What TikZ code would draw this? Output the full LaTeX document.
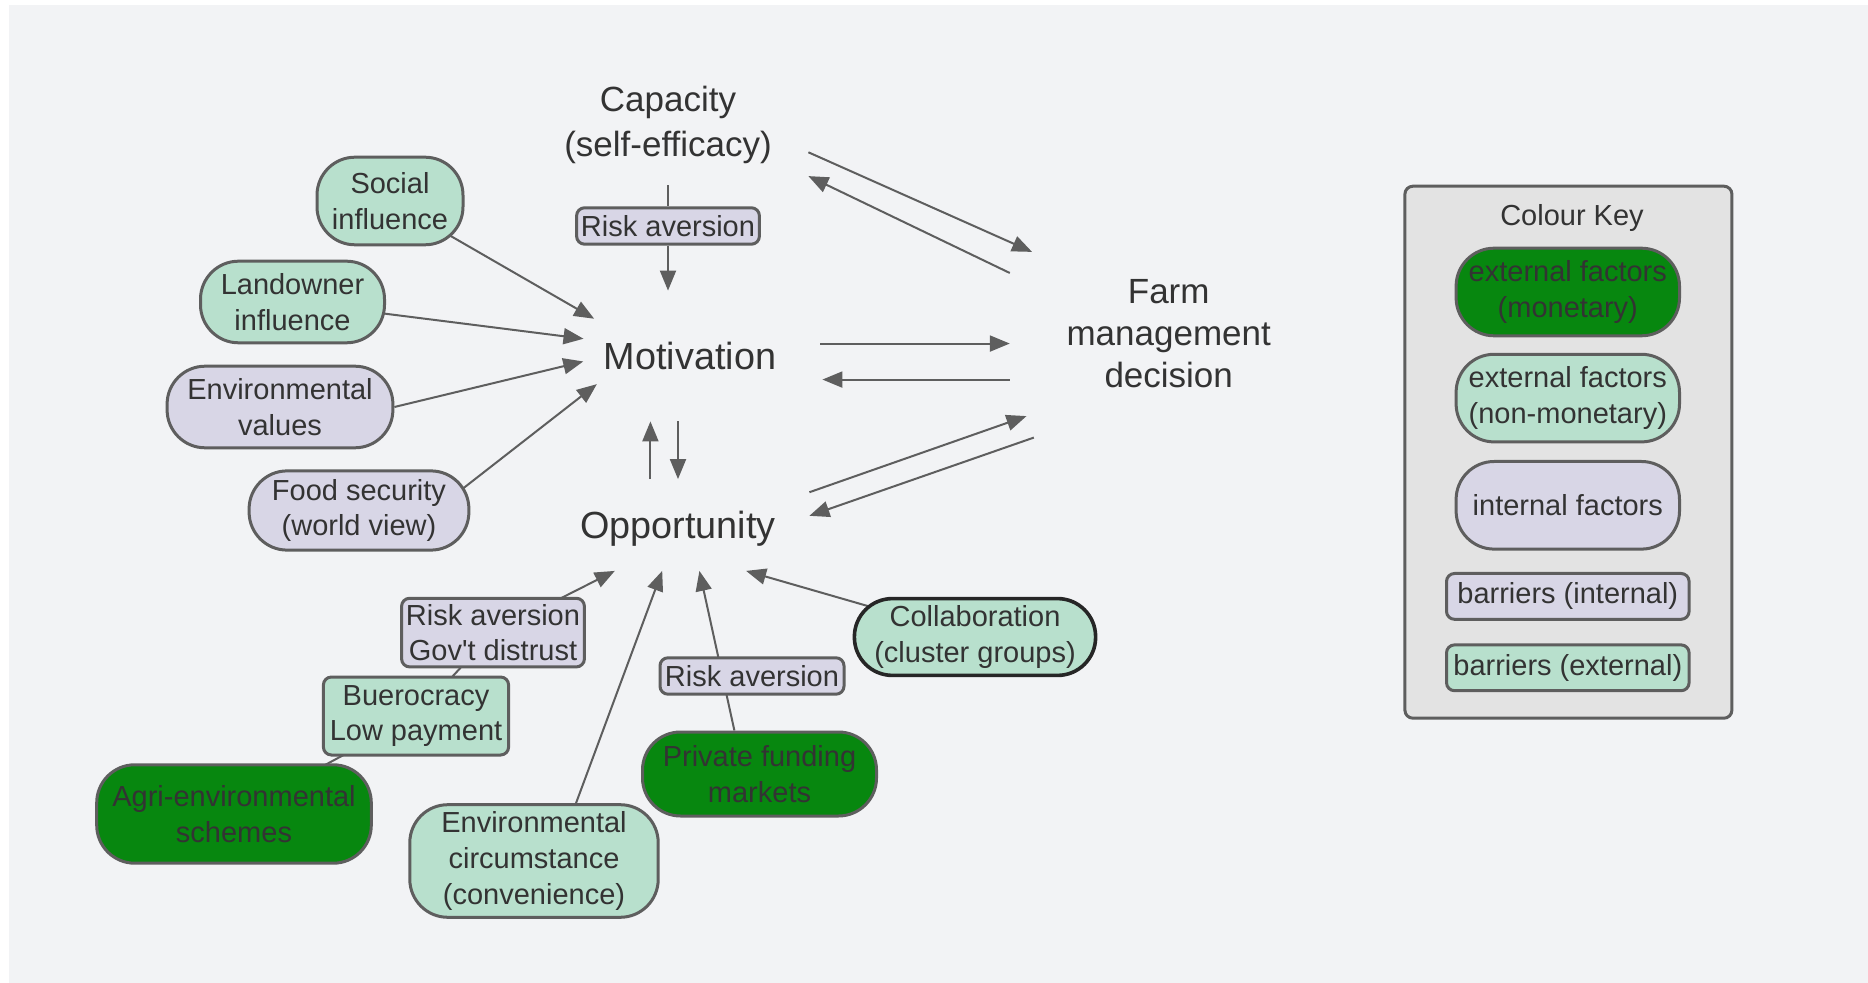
\documentclass[tikz,border=0pt]{standalone}
\usepackage{fontspec}
\setmainfont{Liberation Sans}[Ligatures=TeXOff]
\usetikzlibrary{positioning, arrows.meta, backgrounds}

\definecolor{pagegrey}{HTML}{F2F3F5}
\definecolor{edgegrey}{HTML}{5E5E5E}
\definecolor{inkgrey}{HTML}{333333}
\definecolor{mint}{HTML}{B8E0CD}
\definecolor{lilac}{HTML}{D8D6E6}
\definecolor{money}{HTML}{07870F}
\definecolor{keygrey}{HTML}{E3E3E3}

\begin{document}
\begin{tikzpicture}[x=0.5pt, y=-0.5pt, >={Triangle[length=10pt, width=8pt]},
    every node/.style={text=inkgrey},
    hub/.style={align=center, inner sep=0pt,
                font=\fontsize{17.5}{22.5}\selectfont},
    hubbig/.style={hub, font=\fontsize{18.9}{22.5}\selectfont},
    factor/.style={draw=edgegrey, line width=1.5pt, rounded corners=19pt,
                   align=center, inner sep=1pt,
                   font=\fontsize{14.5}{17.9}\selectfont},
    intf/.style={factor, fill=lilac},
    extf/.style={factor, fill=mint},
    monf/.style={factor, fill=money},
    barrier/.style={factor, rounded corners=4pt},
    barin/.style={barrier, fill=lilac},
    barex/.style={barrier, fill=mint},
    link/.style={->, draw=edgegrey, line width=1pt}]
  \useasboundingbox (0,0) rectangle (1868,983);

  \node[hub, minimum width=140pt, minimum height=60pt] (cap) at (668,125)
       {Capacity\\(self-efficacy)};
  \node[hubbig, minimum width=118pt, minimum height=65pt] (mot) at (690,356)
       {Motivation};
  \node[hubbig, text depth=0pt, minimum width=131pt, minimum height=45.5pt]
       (opp) at (678,525) {Opportunity};
  \node[hub, font=\fontsize{17.5}{21}\selectfont, minimum width=158.5pt,
        minimum height=81.7pt] (farm) at (1168.7,334)
       {Farm\\management\\decision};

  \node[extf, minimum width=73pt, minimum height=43.8pt] (social) at (390,201)
       {Social\\influence};
  \node[extf, minimum width=92pt, minimum height=40.8pt] (land) at (292.5,302)
       {Landowner\\influence};
  \node[intf, minimum width=112.9pt, minimum height=40.8pt] (envval) at (280,407)
       {Environmental\\values};
  \node[intf, minimum width=109.9pt, minimum height=39.6pt] (food) at (359,510.5)
       {Food security\\(world view)};
  \node[barin, minimum width=91.4pt, minimum height=18.2pt] (riskcap) at (668,226)
       {Risk aversion};
  \node[barin, minimum width=91.4pt, minimum height=34.3pt] (riskgov) at (493,632.6)
       {Risk aversion\\Gov't distrust};
  \node[barex, minimum width=92.6pt, minimum height=39pt] (bureau) at (416,716)
       {Buerocracy\\Low payment};
  \node[monf, minimum width=137.3pt, minimum height=49.2pt] (agri) at (234,814)
       {Agri-environmental\\schemes};
  \node[extf, minimum width=124.2pt, minimum height=56.3pt] (envcirc) at (534,861)
       {Environmental\\circumstance\\(convenience)};
  \node[barin, minimum width=92pt, minimum height=18.2pt] (riskpriv) at (752,676)
       {Risk aversion};
  \node[monf, minimum width=117pt, minimum height=42pt] (priv) at (759.5,774)
       {Private funding\\markets};
  \node[extf, draw=black!85, line width=1.8pt, minimum width=120.6pt,
        minimum height=38.4pt] (collab) at (975,637)
       {Collaboration\\(cluster groups)};

  \node[draw=edgegrey, fill=keygrey, line width=1.5pt, rounded corners=4pt,
        minimum width=163.5pt, minimum height=266pt] (keybox) at (1568.4,452.2) {};
  \node[font=\fontsize{14.5}{17.9}\selectfont] (keytitle) at (1572,218) {Colour Key};
  \node[monf, minimum width=111.7pt, minimum height=43.8pt] (k1) at (1567.8,292)
       {external factors\\(monetary)};
  \node[extf, minimum width=111.7pt, minimum height=43.8pt, below=7.75pt of k1] (k2)
       {external factors\\(non-monetary)};
  \node[intf, minimum width=111.7pt, minimum height=43.8pt, below=8.3pt of k2] (k3)
       {internal factors};
  \node[barin, minimum width=121.3pt, minimum height=22.9pt, below=10.7pt of k3] (k4)
       {barriers (internal)};
  \node[barex, minimum width=121.3pt, minimum height=22.9pt, below=11.3pt of k4] (k5)
       {barriers (external)};

  \begin{scope}[on background layer]
    \fill[white] (0,0) rectangle (1868,983);
    \fill[pagegrey] (9,5) rectangle (1868,983);
    \draw[edgegrey, line width=1pt] (cap) -- (riskcap);
    \draw[link] (riskcap) -- (riskcap |- mot.north);
    \draw[link] (cap.349) -- (farm.149);
    \draw[link] (farm.159) -- (cap.340);
    \draw[link, shorten <=6pt] (mot.6) -- (mot.6 -| farm.west);
    \draw[link, shorten >=7pt] (farm.196) -- (farm.196 -| mot.east);
    \draw[link] (opp.121) -- (opp.121 |- mot.south);
    \draw[link] (opp.north |- mot.south) -- (opp.north);
    \draw[link] (opp.14) -- (farm.210);
    \draw[link] ([shift={(24,21.5)}]farm.south west) -- (opp.4);
    \draw[link, shorten >=-13pt] (social.center) -- (mot.157);
    \draw[link, shorten >=-6pt] (land.center) -- (mot.171);
    \draw[link, shorten >=-6pt] (envval.east) -- (mot.184);
    \draw[link, shorten <=-6pt, shorten >=-16pt] (food.14) -- (mot.202);
    \draw[link] (agri.center) -- (bureau.center) -- (riskgov.center) -- (opp.216);
    \draw[link] (envcirc.54) -- (opp.251);
    \draw[link] (priv.120) -- (opp.295);
    \draw[link] (collab.center) -- (opp.326);
  \end{scope}
\end{tikzpicture}
\end{document}
